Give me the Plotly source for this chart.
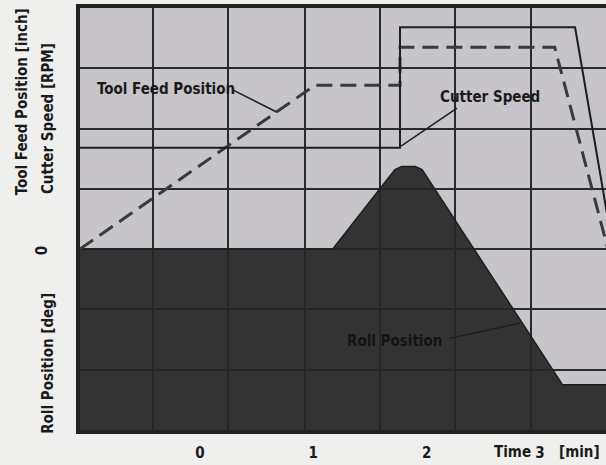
import plotly.graph_objects as go

# ---- data (time in min, values in chart units) ----
roll_t = [-1.06, 1.17, 1.72, 1.78, 1.90, 1.96, 3.20, 3.60]
roll_y = [0.0, 0.0, 1.32, 1.37, 1.37, 1.32, -2.25, -2.25]
roll_floor = [-3.0] * len(roll_t)   # bottom of the roll-position scale

feed_t = [-1.06, 1.015, 1.765, 1.765, 3.13, 3.60]
feed_y = [0.0, 2.72, 2.72, 3.35, 3.35, 0.0]

speed_t = [-1.06, 1.765, 1.765, 3.31, 3.60]
speed_y = [1.68, 1.68, 3.68, 3.68, 0.50]

x_ticks = [0, 1, 2, 3]
x_ticktext = ["0", "1", "2", "3"]

FONT = "Liberation Sans Narrow, DejaVu Sans Condensed, Roboto Condensed, Liberation Sans, Arial"
INK = "#1a1a1a"

fig = go.Figure()
fig.add_trace(go.Scatter(x=roll_t, y=roll_floor, mode="lines",
                         line=dict(width=0, color="rgba(0,0,0,0)"),
                         hoverinfo="skip", showlegend=False))
fig.add_trace(go.Scatter(x=roll_t, y=roll_y, mode="lines", fill="tonexty",
                         line=dict(color="#1e1e1e", width=1.5),
                         fillcolor="rgba(38,38,38,0.92)", name="Roll Position",
                         hoverinfo="skip"))
fig.add_trace(go.Scatter(x=feed_t, y=feed_y, mode="lines",
                         line=dict(color="#3a3a3a", width=3, dash="16px,8px"),
                         name="Tool Feed Position"))
fig.add_trace(go.Scatter(x=speed_t, y=speed_y, mode="lines",
                         line=dict(color="#1e1e1e", width=2),
                         name="Cutter Speed"))

grid_x = [-1.059, -0.415, 0.247, 0.927, 1.589, 2.251, 2.921, 3.583]

fig.update_layout(
    width=606, height=465,
    margin=dict(l=80, r=0, t=8, b=35),
    paper_bgcolor="#efefed",
    plot_bgcolor="#c7c5c9",
    showlegend=False,
    font=dict(family=FONT, color=INK),
    xaxis=dict(range=[-1.059, 3.583], tickvals=x_ticks, ticktext=x_ticktext,
               showgrid=False, zeroline=False, automargin=False,
               ticks="outside", ticklen=6, tickcolor="rgba(0,0,0,0)",
               tickfont=dict(size=15, family=FONT, weight="bold", color=INK),
               showline=True, mirror=True, linecolor="#222", linewidth=4,
               minor=dict(tickvals=grid_x, showgrid=True, gridcolor="#2a2a2a",
                          gridwidth=2, ticks="")),
    yaxis=dict(range=[-3, 4], dtick=1, showticklabels=False, automargin=False,
               showgrid=True, gridcolor="#2a2a2a", gridwidth=2, zeroline=False,
               showline=True, mirror=True, linecolor="#222", linewidth=4),
)

bold = dict(family=FONT, size=15, color=INK, weight="bold")

# leader lines
leaders = [((0.28, 2.65), (0.68, 2.27)),
           ((2.268, 2.34), (1.774, 1.71)),
           ((2.20, -1.48), (2.82, -1.23))]
for (x0, y0), (x1, y1) in leaders:
    fig.add_shape(type="line", x0=x0, y0=y0, x1=x1, y1=y1, xref="x", yref="y",
                  line=dict(color="#1e1e1e", width=1.5))

def ann(x, y, text, xref="x", yref="y", angle=0, font=bold):
    fig.add_annotation(x=x, y=y, xref=xref, yref=yref, text=text, textangle=angle,
                       showarrow=False, font=font, xanchor="center", yanchor="middle")

ann(-0.30, 2.65, "Tool Feed Position")
ann(2.56, 2.52, "Cutter Speed")
ann(1.72, -1.53, "Roll Position",
    font=dict(family=FONT, size=15, color="#141414", weight="bold"))

ann(2.76, -0.052, "Time", yref="paper")
ann(3.35, -0.052, "[min]", yref="paper")

ann(-0.110, 0.777, "Tool Feed Position [inch]", "paper", "paper", -90)
ann(-0.061, 0.739, "Cutter Speed [RPM]", "paper", "paper", -90)
ann(-0.072, 0.424, "0", "paper", "paper", -90)
ann(-0.061, 0.159, "Roll Position [deg]", "paper", "paper", -90)

fig.write_html("out.html", config={"displayModeBar": False},
               post_script="document.body.style.margin='0';")
